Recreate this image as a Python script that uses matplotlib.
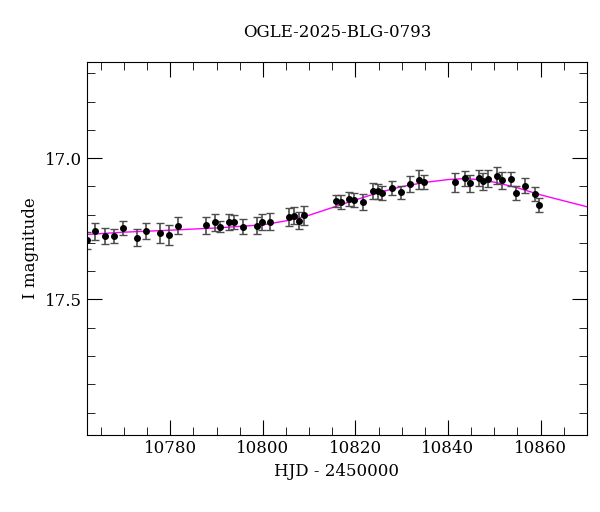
import matplotlib
matplotlib.use("Agg")
import matplotlib.pyplot as plt
from matplotlib.ticker import MultipleLocator

title = "OGLE-2025-BLG-0793"
hjd = [10762.0, 10763.7, 10765.8, 10767.8, 10769.8, 10772.7, 10774.8, 10777.7, 10779.7, 10781.7,
       10787.7, 10789.7, 10790.8, 10792.7, 10793.8, 10795.7, 10798.7, 10799.8, 10801.6,
       10805.6, 10806.7, 10807.9, 10808.9, 10815.7, 10816.9, 10818.7, 10819.8, 10821.7,
       10823.7, 10824.8, 10825.8, 10827.8, 10829.8, 10831.8, 10833.7, 10834.9,
       10841.6, 10843.7, 10844.8, 10846.6, 10847.5, 10848.6, 10850.5, 10851.6, 10853.7,
       10854.8, 10856.6, 10858.7, 10859.7]
mag = [17.29, 17.258, 17.277, 17.276, 17.248, 17.281, 17.258, 17.266, 17.271, 17.240,
       17.238, 17.227, 17.242, 17.227, 17.225, 17.242, 17.240, 17.226, 17.225,
       17.208, 17.204, 17.221, 17.203, 17.152, 17.155, 17.145, 17.149, 17.155,
       17.115, 17.118, 17.122, 17.106, 17.121, 17.091, 17.076, 17.086,
       17.086, 17.071, 17.089, 17.071, 17.082, 17.073, 17.063, 17.078, 17.074,
       17.122, 17.097, 17.126, 17.166]
err = [0.03, 0.03, 0.028, 0.025, 0.025, 0.03, 0.028, 0.035, 0.035, 0.03,
       0.03, 0.03, 0.02, 0.028, 0.025, 0.028, 0.03, 0.03, 0.03,
       0.032, 0.03, 0.03, 0.035, 0.022, 0.025, 0.025, 0.025, 0.028,
       0.028, 0.025, 0.025, 0.025, 0.022, 0.028, 0.033, 0.025,
       0.033, 0.027, 0.03, 0.028, 0.03, 0.03, 0.03, 0.03, 0.025,
       0.025, 0.025, 0.025, 0.025]

model_t = [10762, 10770, 10780, 10790, 10800, 10805, 10810, 10815, 10820, 10825, 10830,
           10835, 10840, 10843, 10846, 10850, 10855, 10860, 10865, 10870]
model_m = [17.270, 17.262, 17.255, 17.247, 17.236, 17.222, 17.202, 17.175, 17.148, 17.122, 17.101,
           17.086, 17.076, 17.073, 17.075, 17.085, 17.105, 17.130, 17.151, 17.172]

plt.rcParams["font.family"] = "DejaVu Serif"
fig = plt.figure(figsize=(6.0, 5.12), dpi=100)
ax = fig.add_axes([0.145, 0.150, 0.833, 0.729])
ax.plot(model_t, model_m, color="#ff00ff", lw=1.0, zorder=1)
ax.errorbar(hjd, mag, yerr=err, fmt="o", color="black", ms=4, ecolor="0.3",
            elinewidth=1.2, capsize=3, capthick=1.0, zorder=2)
ax.set_xlim(10762, 10870)
ax.set_ylim(17.98, 16.66)
ax.xaxis.set_major_locator(MultipleLocator(20))
ax.xaxis.set_minor_locator(MultipleLocator(5))
ax.yaxis.set_major_locator(MultipleLocator(0.5))
ax.yaxis.set_minor_locator(MultipleLocator(0.1))
ax.tick_params(which="both", direction="in", top=True, right=True, labelsize=12)
ax.tick_params(which="major", length=11)
ax.tick_params(which="minor", length=6)
ax.set_xlabel("HJD - 2450000", fontsize=12)
ax.set_ylabel("I magnitude", fontsize=12)
ax.set_title(title, fontsize=12, pad=18)
fig.savefig("out.png", dpi=100)
